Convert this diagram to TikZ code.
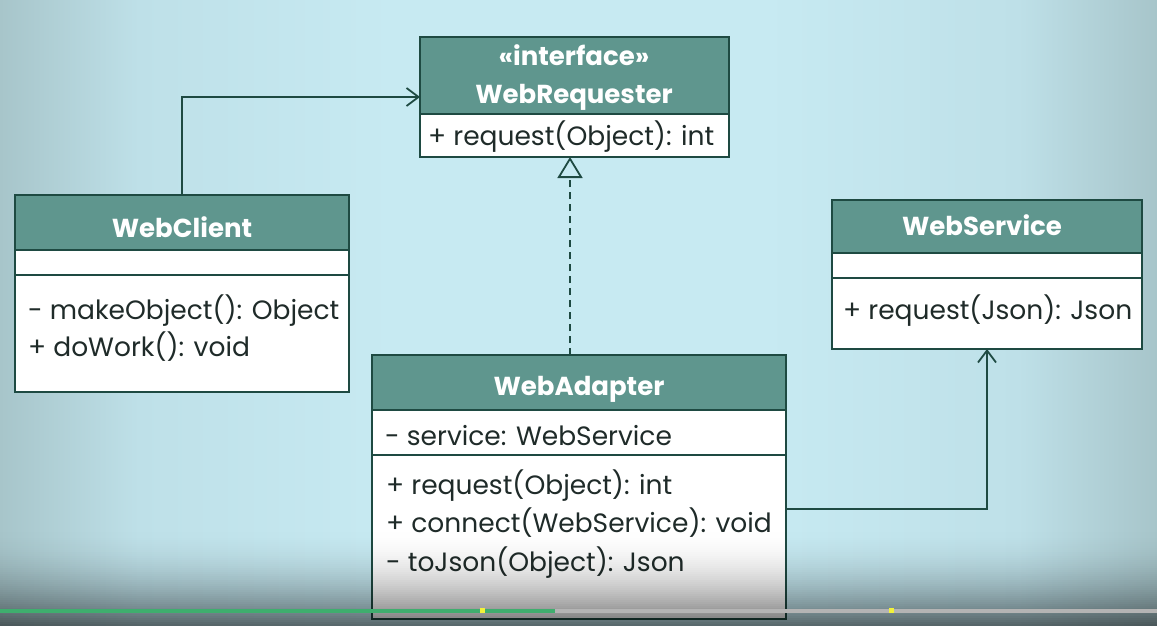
\documentclass[tikz,border=0pt]{standalone}
\usepackage{fontspec}
\setmainfont{Poppins}
\usetikzlibrary{arrows.meta,calc}
\definecolor{bgmid}{HTML}{C7EAF2}
\definecolor{bgmidb}{HTML}{BEE0E8}
\definecolor{bgedge}{HTML}{A7C5CA}
\definecolor{hdr}{HTML}{5F968E}
\definecolor{umlline}{HTML}{1E4A42}
\definecolor{txt}{HTML}{1F2B29}
\definecolor{bargreen}{HTML}{3FAE6E}
\definecolor{bargray}{HTML}{B4B4B4}
\definecolor{baryel}{HTML}{F2F23A}
\pgfdeclarehorizontalshading{bgsh}{100bp}{color(0bp)=(bgedge); color(25bp)=(bgedge); color(31bp)=(bgmidb); color(42bp)=(bgmid); color(58bp)=(bgmid); color(69bp)=(bgmidb); color(75bp)=(bgedge); color(100bp)=(bgedge)}
\begin{document}
\begin{tikzpicture}[x=1pt,y=-1pt,
 boxbg/.style={fill=white, draw=none, inner sep=0pt, outer sep=0pt, anchor=north west},
 frame/.style={draw=umlline, line width=1.8pt},
 title/.style={text=white, font=\fontsize{26}{30}\selectfont\bfseries, anchor=base, inner sep=0pt},
 member/.style={text=txt, font=\fontsize{26.5}{30}\selectfont, anchor=base west, inner sep=0pt},
 conn/.style={draw=umlline, line width=1.8pt},
 barb/.style={-{Straight Barb[length=12pt,width=18pt,line width=1.8pt]}},
 realize/.style={-{Triangle[open,length=21pt,width=25pt,line width=1.8pt]}},
 ]
\useasboundingbox (0,0) rectangle (1157,626);
\shade[shading=bgsh] (0,0) rectangle (1157,626);

% WebRequester
\node[boxbg, minimum width=309pt, minimum height=120pt] (req) at (420,37) {};
\fill[hdr] (req.north west) rectangle ($(req.north east)+(0,77)$);
\draw[frame] ($(req.north west)+(0,77)$) -- ($(req.north east)+(0,77)$);
\draw[frame] (req.north west) rectangle (req.south east);
\node[title] (reqst) at (574,66) {«interface»};
\node[title] (reqt) at (574,103) {WebRequester};
\node[member] (reqm1) at (428,145) {+ request(Object): int};

% WebClient
\node[boxbg, minimum width=334pt, minimum height=197pt] (wc) at (15,195) {};
\fill[hdr] (wc.north west) rectangle ($(wc.north east)+(0,55)$);
\draw[frame] ($(wc.north west)+(0,55)$) -- ($(wc.north east)+(0,55)$);
\draw[frame] ($(wc.north west)+(0,80)$) -- ($(wc.north east)+(0,80)$);
\draw[frame] (wc.north west) rectangle (wc.south east);
\node[title] (wct) at (182,237) {WebClient};
\node[member] (wcm1) at (28,319) {- makeObject(): Object};
\node[member] (wcm2) at (28,356) {+ doWork(): void};

% WebService
\node[boxbg, minimum width=310pt, minimum height=149pt] (ws) at (832,200) {};
\fill[hdr] (ws.north west) rectangle ($(ws.north east)+(0,53)$);
\draw[frame] ($(ws.north west)+(0,53)$) -- ($(ws.north east)+(0,53)$);
\draw[frame] ($(ws.north west)+(0,78)$) -- ($(ws.north east)+(0,78)$);
\draw[frame] (ws.north west) rectangle (ws.south east);
\node[title] (wst) at (982,235) {WebService};
\node[member] (wsm1) at (843,319) {+ request(Json): Json};

% WebAdapter
\node[boxbg, minimum width=414pt, minimum height=264pt] (wa) at (372,355) {};
\fill[hdr] (wa.north west) rectangle ($(wa.north east)+(0,55)$);
\draw[frame] ($(wa.north west)+(0,55)$) -- ($(wa.north east)+(0,55)$);
\draw[frame] ($(wa.north west)+(0,100)$) -- ($(wa.north east)+(0,100)$);
\draw[frame] (wa.north west) rectangle (wa.south east);
\node[title] (wat) at (579,395) {WebAdapter};
\node[member] (waa1) at (385,445) {- service: WebService};
\node[member] (wam1) at (386,494) {+ request(Object): int};
\node[member] (wam2) at (386,532) {+ connect(WebService): void};
\node[member] (wam3) at (386,571) {- toJson(Object): Json};

% connectors
\draw[conn, barb] (wc.north) |- (req.west);
\draw[conn, realize, dash pattern=on 7pt off 5pt] ([xshift=-9pt]wa.north) -- ([xshift=-9pt]wa.north |- req.south);
\draw[conn, barb] ([yshift=-22pt]wa.east) -| (ws.south);

% bottom darkening
\foreach \i in {0,...,49} {
  \pgfmathsetmacro\op{0.55*(\i/49)^2}
  \fill[black, opacity=\op] (0,526+2*\i) rectangle (1157,528+2*\i);
}
% progress bar
\fill[bargray] (555,608.5) rectangle (1157,612.5);
\fill[bargreen] (0,608.5) rectangle (555,612.5);
\fill[baryel] (480,608) rectangle (485,613);
\fill[baryel] (889,608) rectangle (894,613);
\end{tikzpicture}
\end{document}
